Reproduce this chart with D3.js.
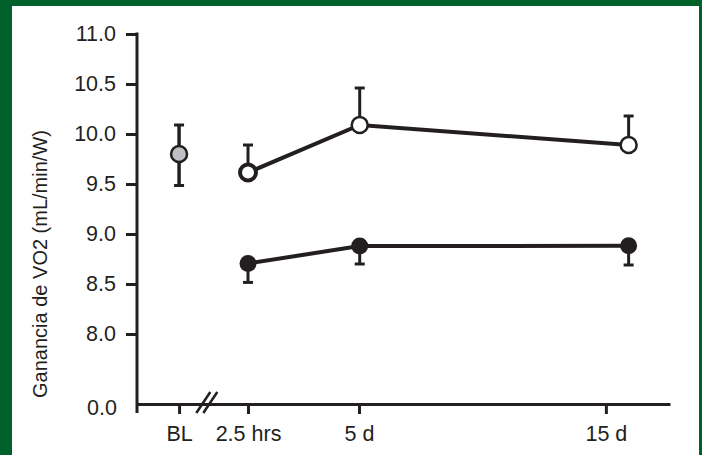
<!DOCTYPE html>
<html>
<head>
<meta charset="utf-8">
<script src="https://cdn.jsdelivr.net/npm/d3@7"></script>
<style>
  body { margin: 0; background: #fff; }
  svg { display: block; font-family: "Liberation Sans", Arial, sans-serif; }
</style>
</head>
<body>
<div id="chart"></div>
<script>
// x positions are in "slot" units (BL = 0, 2.5 hrs = 1)
const tickLabels = ["BL", "2.5 hrs", "5 d", "15 d"];
const tickSlots = [0, 1, 2.61, 6.19];
const pointSlots = [1, 2.62, 6.52];

const yTicks = [8.0, 8.5, 9.0, 9.5, 10.0, 10.5, 11.0];

const blMean = 9.80, blUpper = 10.09, blLower = 9.485;
const openMean = [9.615, 10.09, 9.89];
const openUpper = [9.89, 10.46, 10.18];
const filledMean = [8.706, 8.879, 8.882];
const filledLower = [8.516, 8.70, 8.69];

const width = 702, height = 455;
const ink = "#231f20";
const green = "#00612a";

const svg = d3.select("#chart").append("svg")
  .attr("width", width)
  .attr("height", height);

// frame
svg.append("rect").attr("width", width).attr("height", height).attr("fill", green);
svg.append("rect").attr("x", 12).attr("y", 6).attr("width", 687).attr("height", height - 6).attr("fill", "#fff");

const x = d3.scaleLinear().domain([-0.61, 7.12]).range([137, 670]);
const y = d3.scaleLinear().domain([8, 11]).range([334, 34]);
const axisY = 404;

// y axis
const yAxis = svg.append("g")
  .attr("transform", `translate(${x(-0.61)},0)`)
  .call(d3.axisLeft(y).tickValues(yTicks).tickSize(11).tickSizeOuter(0).tickPadding(10).tickFormat(d3.format(".1f")));
yAxis.select(".domain").remove();
yAxis.selectAll(".tick line").attr("stroke", ink).attr("stroke-width", 3);
yAxis.selectAll(".tick text").attr("fill", ink).style("font-size", "21.5px");

svg.append("line")
  .attr("x1", x(-0.61)).attr("x2", x(-0.61))
  .attr("y1", y(11) - 1.5).attr("y2", axisY + 9)
  .attr("stroke", ink).attr("stroke-width", 3);

svg.append("text")
  .attr("x", x(-0.61) - 20).attr("y", axisY + 4)
  .attr("dy", "0.32em")
  .attr("text-anchor", "end")
  .attr("fill", ink)
  .style("font-size", "21.5px")
  .text("0.0");

// x axis
const xAxis = svg.append("g")
  .attr("transform", `translate(0,${axisY})`)
  .call(d3.axisBottom(x).tickValues(tickSlots).tickSize(10).tickSizeOuter(0).tickPadding(12)
    .tickFormat((d, i) => tickLabels[i]));
xAxis.select(".domain").attr("stroke", ink).attr("stroke-width", 3);
xAxis.selectAll(".tick line").attr("stroke", ink).attr("stroke-width", 3);
xAxis.selectAll(".tick text").attr("fill", ink).style("font-size", "21.5px");

// axis break marks
const brk = svg.append("g").attr("stroke", ink).attr("stroke-width", 2.5);
[0, 7].forEach(off => {
  brk.append("line")
    .attr("x1", x(0.25) + off).attr("y1", axisY + 9)
    .attr("x2", x(0.25) + off + 14).attr("y2", axisY - 12);
});

// y title
svg.append("text")
  .attr("transform", `translate(47,264) rotate(-90)`)
  .attr("text-anchor", "middle")
  .attr("fill", ink)
  .style("font-size", "20px")
  .text("Ganancia de VO2 (mL/min/W)");

const line = d3.line().x(d => x(d[0])).y(d => y(d[1]));

// error bars
const err = svg.append("g").attr("stroke", ink).attr("stroke-width", 3);
function errorBar(sx, v0, v1) {
  err.append("line").attr("x1", x(sx)).attr("x2", x(sx)).attr("y1", y(v0)).attr("y2", y(v1));
  err.append("line").attr("x1", x(sx) - 5).attr("x2", x(sx) + 5).attr("y1", y(v1)).attr("y2", y(v1));
}
errorBar(0, blLower, blUpper);
errorBar(0, blUpper, blLower);
pointSlots.forEach((s, i) => {
  errorBar(s, openMean[i], openUpper[i]);
  errorBar(s, filledMean[i], filledLower[i]);
});

// lines
svg.append("path")
  .datum(pointSlots.map((s, i) => [s, openMean[i]]))
  .attr("d", line)
  .attr("fill", "none").attr("stroke", ink).attr("stroke-width", 4);
svg.append("path")
  .datum(pointSlots.map((s, i) => [s, filledMean[i]]))
  .attr("d", line)
  .attr("fill", "none").attr("stroke", ink).attr("stroke-width", 4);

// markers
svg.append("circle")
  .attr("cx", x(0)).attr("cy", y(blMean)).attr("r", 8)
  .attr("fill", "#bfc0c4").attr("stroke", ink).attr("stroke-width", 2.5);

svg.append("g").selectAll("circle")
  .data(openMean)
  .join("circle")
  .attr("cx", (d, i) => x(pointSlots[i]))
  .attr("cy", d => y(d))
  .attr("r", 8)
  .attr("fill", "#fff").attr("stroke", ink)
  .attr("stroke-width", (d, i) => i === 0 ? 4 : 2.5);

svg.append("g").selectAll("circle")
  .data(filledMean)
  .join("circle")
  .attr("cx", (d, i) => x(pointSlots[i]))
  .attr("cy", d => y(d))
  .attr("r", 8.5)
  .attr("fill", ink);
</script>
</body>
</html>
